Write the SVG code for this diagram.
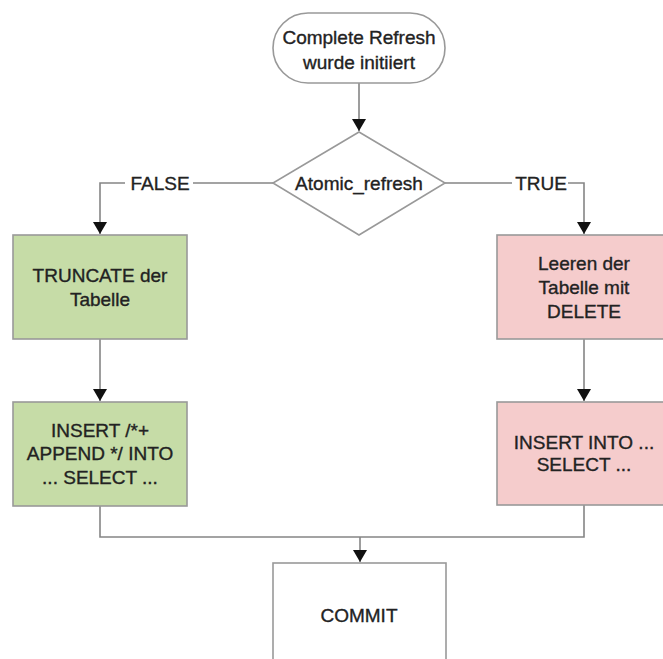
<svg xmlns="http://www.w3.org/2000/svg" width="663" height="659" viewBox="0 0 663 659">
<defs>
<marker id="arr" markerUnits="userSpaceOnUse" markerWidth="14" markerHeight="14" viewBox="0 0 14 14" refX="12" refY="7" orient="auto">
<path d="M0,0 L12,7 L0,14 Z" fill="#111"/>
</marker>
<style>
text{font-family:"Liberation Sans",Arial,sans-serif;font-size:19px;fill:#222;stroke:#222;stroke-width:0.35;text-anchor:middle}
.ln{fill:none;stroke:#858585;stroke-width:1.6}
.box{stroke:#999;stroke-width:1.6}
.g{fill:#c6dca7}
.p{fill:#f5cccc}
.w{fill:#fff}
.lbl{fill:#fff}
</style>
</defs>
<rect width="663" height="659" fill="#fff"/>
<g id="connectors">
<path class="ln" d="M359,83 V131" marker-end="url(#arr)"/>
<path class="ln" d="M273,183 H100 V234" marker-end="url(#arr)"/>
<path class="ln" d="M445,183 H584 V234" marker-end="url(#arr)"/>
<path class="ln" d="M100,339 V401" marker-end="url(#arr)"/>
<path class="ln" d="M584,339 V401" marker-end="url(#arr)"/>
<path class="ln" d="M100,506 V537 H584 V505"/>
<path class="ln" d="M360,537 V562" marker-end="url(#arr)"/>
<rect class="lbl" x="125" y="172" width="68" height="22"/>
<text x="160" y="190">FALSE</text>
<rect class="lbl" x="512" y="172" width="56" height="22"/>
<text x="541" y="190">TRUE</text>
</g>
<g id="start">
<rect class="box w" x="273" y="13" width="172" height="70" rx="35" ry="35"/>
<text x="359" y="44">Complete Refresh</text>
<text x="359" y="69">wurde initiiert</text>
</g>
<g id="decision">
<polygon class="box w" points="359,132 445,183 359,235 273,183"/>
<text x="359" y="190">Atomic_refresh</text>
</g>
<g id="truncate">
<rect class="box g" x="13" y="235" width="174" height="104"/>
<text x="100" y="282">TRUNCATE der</text>
<text x="100" y="306">Tabelle</text>
</g>
<g id="insert-append">
<rect class="box g" x="13" y="402" width="174" height="104"/>
<text x="100" y="437">INSERT /*+</text>
<text x="100" y="460">APPEND */ INTO</text>
<text x="100" y="484">... SELECT ...</text>
</g>
<g id="delete">
<rect class="box p" x="497" y="235" width="174" height="104"/>
<text x="584" y="270">Leeren der</text>
<text x="584" y="294">Tabelle mit</text>
<text x="584" y="318">DELETE</text>
</g>
<g id="insert-into">
<rect class="box p" x="497" y="402" width="174" height="103"/>
<text x="584" y="449">INSERT INTO ...</text>
<text x="584" y="471">SELECT ...</text>
</g>
<g id="commit">
<rect class="box w" x="273" y="563" width="173" height="110"/>
<text x="359" y="622">COMMIT</text>
</g>
</svg>
